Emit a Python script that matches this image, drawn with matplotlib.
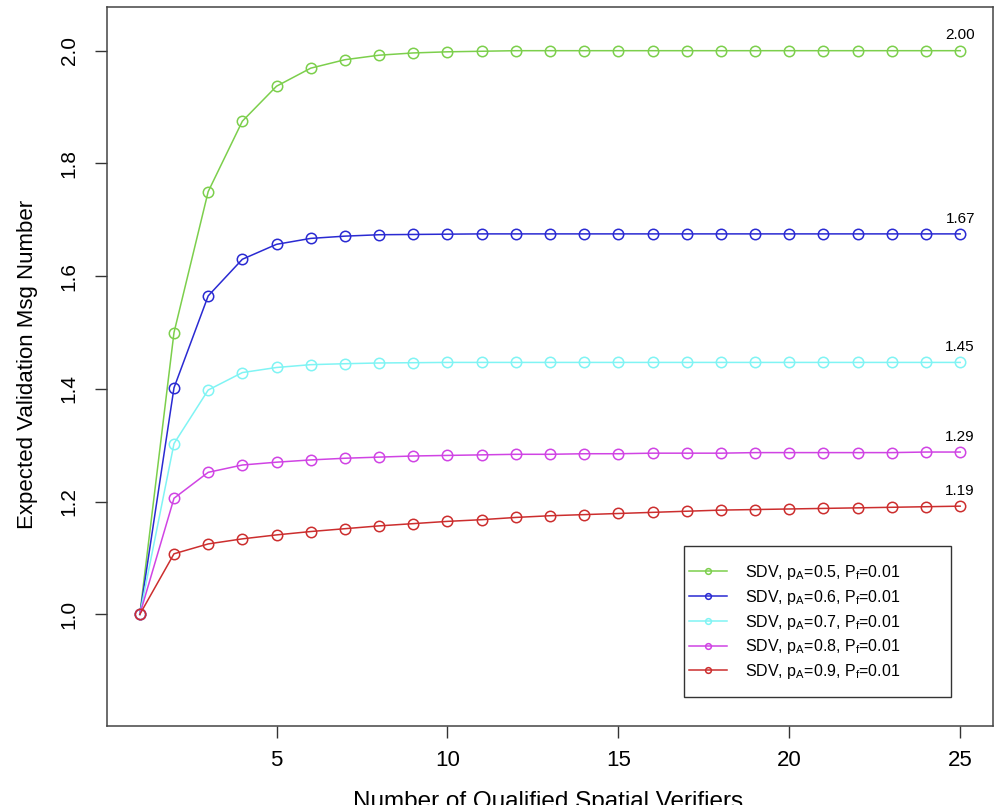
import matplotlib
matplotlib.use("Agg")
import matplotlib.pyplot as plt
from matplotlib.patches import Rectangle

plt.rcParams['font.family'] = ['Liberation Sans', 'DejaVu Sans']
plt.rcParams['mathtext.fontset'] = 'custom'
plt.rcParams['mathtext.rm'] = 'Liberation Sans'

n = list(range(1, 26))

# values
pa05 = [1.0, 1.5, 1.75, 1.875, 1.937, 1.969, 1.984, 1.992, 1.996, 1.998,
        1.999, 2.0, 2.0, 2.0, 2.0, 2.0, 2.0, 2.0, 2.0, 2.0, 2.0, 2.0, 2.0, 2.0, 2.0]
pa06 = [1.0, 1.402, 1.565, 1.630, 1.6565, 1.667, 1.671, 1.6735, 1.674, 1.6745,
        1.675, 1.675, 1.675, 1.675, 1.675, 1.675, 1.675, 1.675, 1.675, 1.675,
        1.675, 1.675, 1.675, 1.675, 1.675]
pa07 = [1.0, 1.303, 1.398, 1.429, 1.438, 1.443, 1.4447, 1.446, 1.4465, 1.447,
        1.447, 1.447, 1.447, 1.447, 1.447, 1.447, 1.447, 1.447, 1.447, 1.447,
        1.447, 1.447, 1.447, 1.447, 1.447]
pa08 = [1.0, 1.206, 1.252, 1.265, 1.270, 1.274, 1.277, 1.279, 1.281, 1.282,
        1.283, 1.284, 1.284, 1.285, 1.285, 1.286, 1.286, 1.286, 1.287, 1.287,
        1.287, 1.287, 1.287, 1.288, 1.288]
pa09 = [1.0, 1.1075, 1.125, 1.134, 1.141, 1.147, 1.152, 1.157, 1.161, 1.165,
        1.168, 1.172, 1.175, 1.177, 1.179, 1.181, 1.183, 1.185, 1.186, 1.187,
        1.188, 1.189, 1.190, 1.191, 1.192]

series = [pa05, pa06, pa07, pa08, pa09]
pa_vals = ['0.5', '0.6', '0.7', '0.8', '0.9']
end_labels = ['2.00', '1.67', '1.45', '1.29', '1.19']
colors = ['#7ccf4c', '#2a2ad2', '#80f4f4', '#d044e4', '#cc2e2e']

fig = plt.figure(figsize=(9.94, 8.05), dpi=100)
ax = fig.add_axes([107 / 994, 79 / 805, 886 / 994, 719 / 805])

for ys, pa, lab, c in zip(series, pa_vals, end_labels, colors):
    ax.plot(n, ys, color=c, lw=1.1, marker='o', ms=7.5, mfc='none', mec=c, mew=1.1,
            label='SDV, p$_\\mathregular{A}$=' + pa + ', P$_\\mathregular{f}$=0.01')
    ax.annotate(lab, (n[-1], ys[-1]), xytext=(0, 6), textcoords='offset points',
                ha='center', va='bottom', fontsize=11)

ax.set_xlim(0.04, 25.96)
ax.set_ylim(0.802, 2.0775)
ax.set_xticks([5, 10, 15, 20, 25])
ax.set_yticks([1.0, 1.2, 1.4, 1.6, 1.8, 2.0])
ax.set_yticklabels(['1.0', '1.2', '1.4', '1.6', '1.8', '2.0'], rotation=90, va='center')
ax.tick_params(direction='out', length=8.5, width=1, colors='#333333',
               labelcolor='black')
ax.tick_params(axis='x', labelsize=16, pad=9)
ax.tick_params(axis='y', labelsize=15, pad=12)
for s in ax.spines.values():
    s.set_color('#444444')
    s.set_linewidth(1.1)

# axis titles placed like the R original (x title runs off the bottom edge)
fig.text(548 / 994, 1 - 791 / 805, 'Number of Qualified Spatial Verifiers',
         fontsize=17.5, ha='center', va='top')
fig.text(28 / 994, 1 - 364 / 805, 'Expected Validation Msg Number',
         fontsize=16, ha='center', va='center', rotation=90)

leg = ax.legend(loc='upper left', bbox_to_anchor=(0.6569, 0.2267), borderaxespad=0,
                borderpad=0, fontsize=11.5, markerscale=0.55, handlelength=2.4,
                handletextpad=1.1, labelspacing=0.36, frameon=False)
ax.add_patch(Rectangle((0.6512, 0.0403), 0.3014, 0.210, transform=ax.transAxes,
                       fill=False, edgecolor='#333333', lw=1.0, zorder=5))

fig.savefig('out.png', dpi=100)
